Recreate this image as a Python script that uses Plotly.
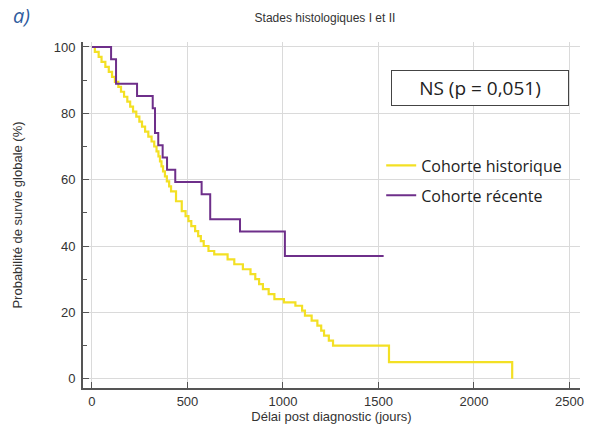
import plotly.graph_objects as go

# Cohorte historique (Kaplan-Meier)
hist_days = [0, 15, 35, 50, 70, 88, 105, 120, 138, 152, 168, 185, 200, 215, 232,
             248, 262, 278, 295, 312, 326, 338, 348, 356, 364, 372, 382, 392, 404,
             414, 440, 470, 490, 505, 520, 540, 556, 570, 585, 610, 640, 710, 745,
             790, 830, 855, 875, 895, 925, 955, 1005, 1065, 1100, 1115, 1150, 1180,
             1200, 1215, 1240, 1262, 1555, 2200]
hist_surv = [100, 98.5, 97, 95.5, 94, 92.5, 91, 89.5, 88, 86.5, 85, 83.5, 82, 80.5, 79,
             77.5, 76, 74.5, 73, 71.5, 70, 68.5, 67, 65.5, 64, 62.5, 61, 59.5, 58,
             56.5, 53.5, 50.5, 49, 47.5, 46, 44.5, 43, 41.5, 40, 38.5, 37.5, 36, 34.5,
             33, 31.5, 30, 28.5, 27, 25.5, 24, 23, 22, 20.5, 19, 17.5, 16,
             14.5, 13, 11.5, 10, 5, 0]

# Cohorte récente
rec_days = [0, 100, 126, 236, 318, 330, 347, 370, 393, 436, 574, 619, 775, 1010, 1527]
rec_surv = [100, 96.3, 88.9, 85.2, 81.5, 74.1, 70.4, 66.7, 63.0, 59.3, 55.6, 48.1,
            44.4, 37.0, 37.0]

x_ticks = [0, 500, 1000, 1500, 2000, 2500]
y_ticks = [0, 20, 40, 60, 80, 100]

fig = go.Figure()
fig.add_trace(go.Scatter(x=hist_days, y=hist_surv, mode='lines', line_shape='hv',
                         name='Cohorte historique', legendgroup='h',
                         line=dict(color='#F3E024', width=2.2)))
fig.add_trace(go.Scatter(x=rec_days, y=rec_surv, mode='lines', line_shape='hv',
                         name='Cohorte récente', legendgroup='r',
                         line=dict(color='#6E2F8A', width=2)))

fig.add_annotation(x=2030, y=87.5, xref='x', yref='y', text='NS (p = 0,051)',
                   showarrow=False, width=172, height=30, borderpad=2,
                   bordercolor='#444', borderwidth=1, bgcolor='white',
                   font=dict(family='Open Sans', size=19, color='#222'))
# "a)" panel label, top-left corner of the page
fig.add_annotation(x=-0.145, y=1.078, xref='paper', yref='paper', text='<i>a)</i>',
                   showarrow=False, xanchor='left', yanchor='middle',
                   font=dict(family='Open Sans', size=20, color='#2F5C9E'))

fig.update_layout(
    width=590, height=441,
    margin=dict(l=83, r=10, t=42, b=53),
    paper_bgcolor='white', plot_bgcolor='white',
    title=dict(text='Stades histologiques I et II', x=325 / 590, xanchor='center',
               y=1 - 18 / 441, yanchor='middle',
               font=dict(family='Liberation Sans', size=12, color='#333')),
    legend=dict(x=0.6, y=0.692, xanchor='left', yanchor='top',
                font=dict(family='Open Sans', size=16, color='#222'),
                bgcolor='rgba(0,0,0,0)', itemwidth=30, tracegroupgap=6),
    font=dict(family='Liberation Sans', size=13, color='#333'),
)
fig.update_xaxes(range=[-47, 2555], tickvals=x_ticks, ticks='inside', ticklen=6,
                 tickcolor='#555', showline=True, linecolor='#555', linewidth=2,
                 showgrid=True, gridcolor='#DADADA', gridwidth=1, zeroline=False,
                 automargin=False,
                 title=dict(text='Délai post diagnostic (jours)', standoff=0,
                            font=dict(size=13)))
fig.update_yaxes(range=[-2.8, 101.5], tickvals=y_ticks, ticks='inside', ticklen=6,
                 tickcolor='#555', showline=True, linecolor='#555', linewidth=2,
                 showgrid=True, gridcolor='#DADADA', gridwidth=1, zeroline=False,
                 automargin=False, ticklabelstandoff=3,
                 minor=dict(tickvals=[10, 30, 50, 70, 90], ticks='inside', ticklen=4,
                            tickcolor='#555', showgrid=False),
                 title=dict(text='Probabilité de survie globale (%)', standoff=28,
                            font=dict(size=13)))

# remove the default page margin so the figure fills the window exactly
fig.write_html("out.html", config={'displayModeBar': False},
               post_script="document.body.style.margin='0';")
